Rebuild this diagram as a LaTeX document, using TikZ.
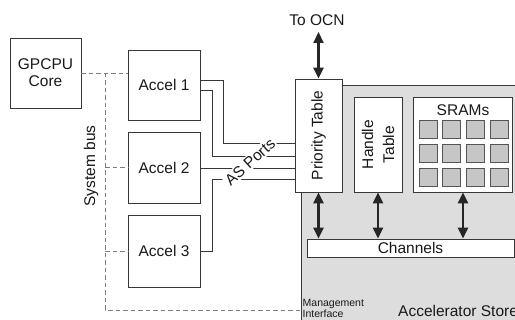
\documentclass[tikz,border=0pt]{standalone}
\usepackage{fontspec}
\setmainfont{Liberation Sans}
\usetikzlibrary{arrows.meta,calc}
\definecolor{storefill}{RGB}{221,221,221}
\definecolor{cellfill}{RGB}{198,198,198}
\definecolor{linec}{RGB}{55,55,55}
\definecolor{busc}{RGB}{125,125,125}
\begin{document}
\begin{tikzpicture}[x=1pt,y=-1pt,
  every node/.style={font=\fontsize{15.5}{17}\selectfont, text=black!90},
  box/.style={draw=linec, line width=0.8pt, fill=white, inner sep=0pt, align=center},
  storebox/.style={draw=linec, line width=0.8pt, fill=storefill, anchor=north west, inner sep=0pt, minimum width=240pt, minimum height=250pt},
  cell/.style={draw=linec!85, line width=0.6pt, fill=cellfill, minimum size=18pt, inner sep=0pt},
  bidir/.style={{Triangle[length=11pt,width=10pt]}-{Triangle[length=11pt,width=10pt]}, line width=2.2pt, draw=black!85},
  port/.style={draw=linec, line width=0.8pt},
  bus/.style={draw=busc, line width=0.9pt, dash pattern=on 4.5pt off 3pt},
  small/.style={font=\fontsize{10.5}{11}\selectfont, align=left, inner sep=0pt}
]
\clip (0,0) rectangle (515,320);
\fill[white] (0,0) rectangle (515,320);

% Accelerator store
\node[storebox] (store) at (301,85) {};

% left boxes
\node[box, minimum width=71pt, minimum height=70pt] (cpu) at (45.5,73) {GPCPU\\Core};
\node[box, minimum width=72pt, minimum height=70pt] (acc1) at (164,85) {Accel 1};
\node[box, minimum width=72pt, minimum height=71pt] (acc2) at (164,167.5) {Accel 2};
\node[box, minimum width=72pt, minimum height=72pt] (acc3) at (164,251) {Accel 3};

% store contents
\node[box, minimum width=47pt, minimum height=113pt] (prio) at (318.5,135.5) {};
\node[rotate=90, inner sep=0pt] (priolbl) at (prio.center) {Priority Table};
\node[box, minimum width=48pt, minimum height=95pt] (handle) at (378,144.5) {};
\node[rotate=90, align=center, inner sep=0pt, font=\fontsize{15.5}{21}\selectfont] (handlelbl) at (handle.center) {Handle\\Table};
\node[box, minimum width=99pt, minimum height=95pt] (sram) at (463,144.5) {};
\node[inner sep=0pt] (sramlbl) at (463,110) {SRAMs};
\foreach \i/\x in {1/428,2/451.7,3/475.4,4/499.1}
  \foreach \j/\y in {1/129.5,2/153.2,3/176.9}
    \node[cell] (c\i\j) at (\x,\y) {};
\node[box, minimum width=207pt, minimum height=18pt] (chan) at (410.5,248) {Channels};

% texts in store
\node[small, anchor=north west] (mgmt) at (302.5,299) {Management\\Interface};
\node[anchor=base west, inner sep=0pt] (storelbl) at (398,317) {Accelerator Store};

% OCN
\node[inner sep=0pt] (ocn) at (317,20) {To OCN};
\coordinate (ocntip) at (prio.north |- 0,32);
\draw[bidir] (ocntip) -- (prio.north);

% channel arrows
\draw[bidir] (prio.south) -- (prio.south |- chan.north);
\draw[bidir] (handle.south) -- (handle.south |- chan.north);
\draw[bidir] (sram.south) -- (sram.south |- chan.north);

% system bus
\coordinate (bustop) at (105,73);
\coordinate (busbot) at (105,310);
\draw[bus] (cpu.east) -- (acc1.west |- cpu.east);
\draw[bus] (bustop) -- (busbot) -- (store.west |- busbot);
\draw[bus] (bustop |- acc2.west) -- (acc2.west);
\draw[bus] (bustop |- acc3.west) -- (acc3.west);
\node[rotate=90, inner sep=0pt] (buslbl) at (91,166) {System bus};

% AS ports
\draw[port] (acc1.east |- 0,80) -| (223,143) -- (prio.west |- 0,143);
\draw[port] (acc1.east |- 0,90) -| (212,156) -- (prio.west |- 0,156);
\draw[port] (acc2.east |- 0,168) -- (prio.west |- 0,168);
\draw[port] (acc3.east) -| (212,179) -- (prio.west |- 0,179);
\node[rotate=42, fill=white, inner sep=1.5pt] (aslbl) at (250,162) {AS Ports};
\end{tikzpicture}
\end{document}
